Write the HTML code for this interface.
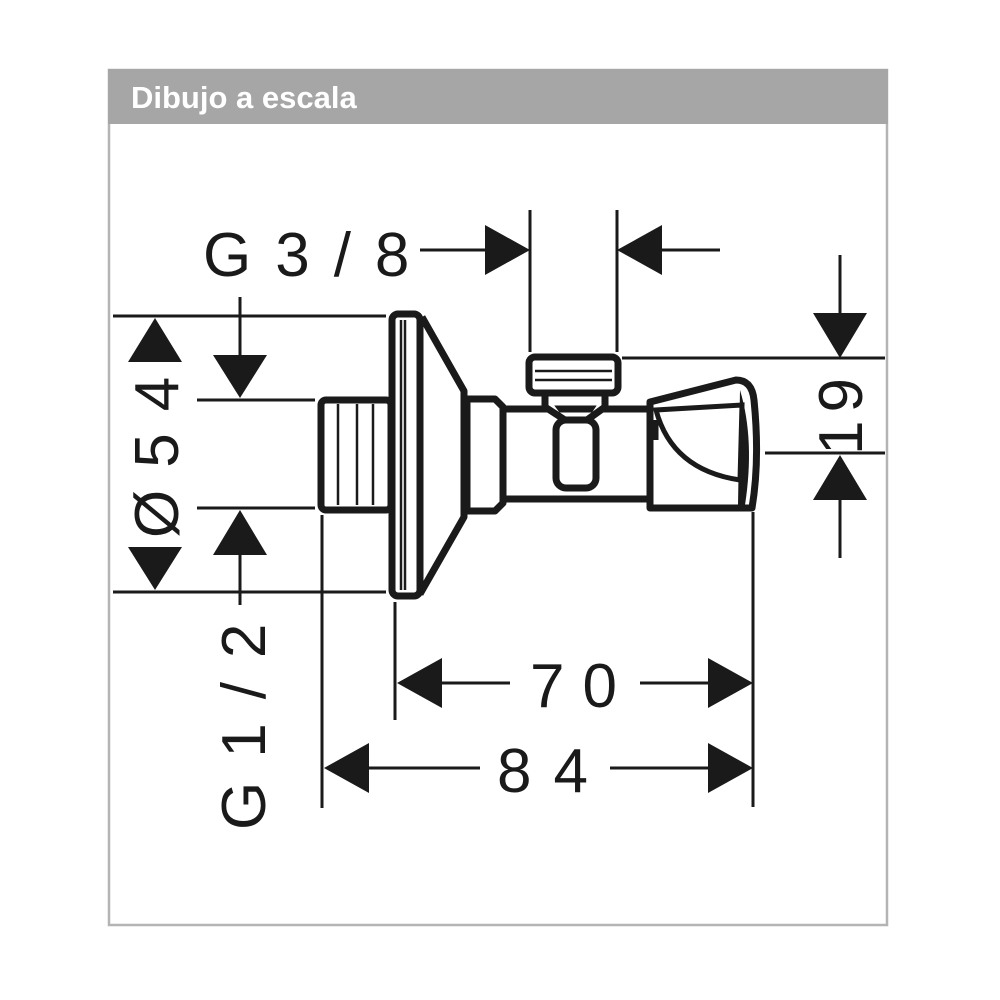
<!DOCTYPE html>
<html><head><style>
html,body{margin:0;padding:0;background:#fff;width:1000px;height:1000px;overflow:hidden}
</style></head><body>
<svg width="1000" height="1000" viewBox="0 0 1000 1000" xmlns="http://www.w3.org/2000/svg">
<rect x="109" y="70" width="778" height="855" fill="#fff" stroke="#b4b4b4" stroke-width="2.5"/>
<rect x="108" y="69" width="780" height="55" fill="#a6a6a6"/>
<text x="131" y="108" font-family="Liberation Sans, sans-serif" font-weight="bold" font-size="31" fill="#fff">Dibujo a escala</text>

<g stroke="#1a1a1a" fill="none" stroke-width="3">
<line x1="530" y1="210" x2="530" y2="352"/>
<line x1="617" y1="210" x2="617" y2="352"/>
<line x1="420" y1="250" x2="500" y2="250"/>
<line x1="650" y1="250" x2="720" y2="250"/>
<line x1="113" y1="316" x2="386" y2="316"/>
<line x1="113" y1="592" x2="386" y2="592"/>
<line x1="197" y1="400" x2="315" y2="400"/>
<line x1="197" y1="508" x2="315" y2="508"/>
<line x1="240" y1="297" x2="240" y2="360"/>
<line x1="240" y1="550" x2="240" y2="605"/>
<line x1="622" y1="358" x2="885" y2="358"/>
<line x1="765" y1="453" x2="885" y2="453"/>
<line x1="840" y1="255" x2="840" y2="320"/>
<line x1="840" y1="495" x2="840" y2="558"/>
<line x1="395" y1="602" x2="395" y2="720"/>
<line x1="753" y1="512" x2="753" y2="807"/>
<line x1="322" y1="515" x2="322" y2="808"/>
<line x1="430" y1="683" x2="510" y2="683"/>
<line x1="640" y1="683" x2="720" y2="683"/>
<line x1="360" y1="768" x2="480" y2="768"/>
<line x1="610" y1="768" x2="720" y2="768"/>
</g>
<g fill="#1a1a1a">
<polygon points="530,250 485,225 485,275"/>
<polygon points="617,250 662,225 662,275"/>
<polygon points="155,318 128,362 182,362"/>
<polygon points="155,590 128,547 182,547"/>
<polygon points="240,398 213,355 267,355"/>
<polygon points="240,510 213,555 267,555"/>
<polygon points="840,358 813,313 867,313"/>
<polygon points="840,455 813,500 867,500"/>
<polygon points="397,683 442,658 442,708"/>
<polygon points="753,683 708,658 708,708"/>
<polygon points="324,768 369,743 369,793"/>
<polygon points="753,768 708,743 708,793"/>
</g>

<g font-family="Liberation Sans, DejaVu Sans, sans-serif" font-size="62" fill="#1a1a1a">
<text x="203" y="276" letter-spacing="24">G3/8</text>
<text x="530" y="707" letter-spacing="18">70</text>
<text x="497" y="792" letter-spacing="22">84</text>
<text transform="translate(178,538) rotate(-90)" letter-spacing="22">Ø54</text>
<text transform="translate(265,830) rotate(-90)" letter-spacing="24">G1/2</text>
<text transform="translate(862,455) rotate(-90)" letter-spacing="8">19</text>
</g>

<g stroke="#1a1a1a" fill="#fff" stroke-width="7" stroke-linejoin="round">
<rect x="321" y="400" width="70" height="110" rx="5"/>
<path d="M503,409 H650 V499 H503 Z"/>
<path d="M467,399 H495 L503,407 V503 L495,511 H467 Z"/>
<path d="M422,317 L464,391 V517 L420,594"/>
<rect x="392" y="314" width="28" height="282" rx="6"/>
<path d="M545,393 V407 L565,420 M605,393 V407 L587,420"/>
<rect x="529" y="357" width="89" height="36" rx="6"/>
<rect x="556" y="420" width="40" height="68" rx="10"/>
<path d="M650,402 L736,380 Q752,380 754,400 Q760,460 752,508 L650,508 Z"/>
</g>
<g stroke="#1a1a1a" stroke-width="2.5" fill="none">
<line x1="338" y1="404" x2="338" y2="505"/>
<line x1="357" y1="404" x2="357" y2="505"/>
<line x1="373" y1="404" x2="373" y2="505"/>
<line x1="401" y1="320" x2="401" y2="590"/>
<line x1="405" y1="320" x2="405" y2="590"/>
<line x1="535" y1="371" x2="612" y2="371"/>
<line x1="535" y1="380" x2="612" y2="380"/>
</g>
<path d="M656,410 Q672,470 740,480 L742,405 Z M656,420 L656,440" fill="none" stroke="#1a1a1a" stroke-width="5"/>
<path d="M740,390 Q755,440 745,505 L738,505 Z" fill="#1a1a1a"/>
</svg>
</body></html>
